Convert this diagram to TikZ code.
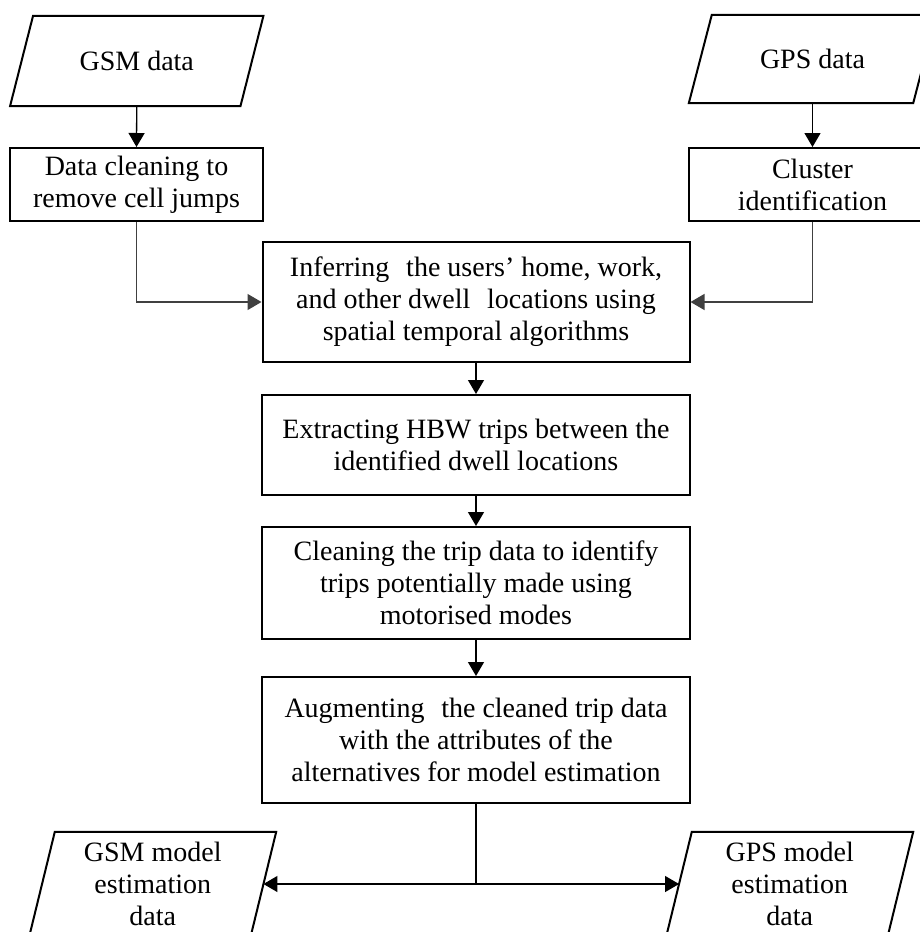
\documentclass[tikz,border=0pt]{standalone}
\usepackage{fontspec}
\setmainfont{Liberation Serif}
\usetikzlibrary{arrows.meta,calc}
\tikzset{
  txt/.style={font=\fontsize{28}{32}\selectfont, align=center, inner sep=0pt},
  procbox/.style={txt, draw, line width=2pt, rectangle},
  iobox/.style={txt, rectangle},
  para/.style={line width=2pt, line join=miter},
  conn/.style={line width=1.3pt, -{Triangle[length=14pt,width=16pt]}},
  elbow/.style={conn, draw=black!75},
}
\begin{document}
\begin{tikzpicture}[x=1pt,y=-1pt]
\useasboundingbox (0,0) rectangle (920,932);
\clip (0,0) rectangle (920,932);
% input parallelograms (invisible core nodes)
\node[iobox, minimum width=230pt, minimum height=90pt] (gsm) at (136.75,61) {GSM data};
\node[iobox, minimum width=224pt, minimum height=88pt] (gps) at (812.5,59) {GPS data};
\draw[para] ([xshift=11.5pt]gsm.north west) -- ([xshift=11.5pt]gsm.north east) -- ([xshift=-11.5pt]gsm.south east) -- ([xshift=-11.5pt]gsm.south west) -- cycle;
\draw[para] ([xshift=11.5pt]gps.north west) -- ([xshift=11.5pt]gps.north east) -- ([xshift=-11.5pt]gps.south east) -- ([xshift=-11.5pt]gps.south west) -- cycle;
% process boxes
\node[procbox, minimum width=253pt, minimum height=73pt] (clean) at (136.5,184.5) {Data cleaning to\\remove cell jumps};
\node[procbox, minimum width=247pt, minimum height=73pt] (cluster) at (812.5,184.5) {Cluster\\identification};
\node[procbox, minimum width=427pt, minimum height=120pt] (infer) at (476,302) {Inferring\hspace{0.35em} the users’ home, work,\\and other dwell\hspace{0.35em} locations using\\spatial temporal algorithms};
\node[procbox, minimum width=428pt, minimum height=100pt] (extract) at (476,445) {Extracting HBW trips between the\\identified dwell locations};
\node[procbox, minimum width=428pt, minimum height=112pt] (tripclean) at (476,583) {Cleaning the trip data to identify\\trips potentially made using\\motorised modes};
\node[procbox, minimum width=428pt, minimum height=126pt] (augment) at (476,740) {Augmenting\hspace{0.35em} the cleaned trip data\\with the attributes of the\\alternatives for model estimation};
% output parallelograms
\node[iobox, minimum width=221pt, minimum height=104pt] (gsmm) at (152.75,884) {GSM model\\estimation\\data};
\node[iobox, minimum width=221pt, minimum height=104pt] (gpsm) at (789.75,884) {GPS model\\estimation\\data};
\draw[para] ([xshift=12.75pt]gsmm.north west) -- ([xshift=12.75pt]gsmm.north east) -- ([xshift=-12.75pt]gsmm.south east) -- ([xshift=-12.75pt]gsmm.south west) -- cycle;
\draw[para] ([xshift=12.75pt]gpsm.north west) -- ([xshift=12.75pt]gpsm.north east) -- ([xshift=-12.75pt]gpsm.south east) -- ([xshift=-12.75pt]gpsm.south west) -- cycle;
% connectors
\draw[conn] (gsm.south) -- (clean.north);
\draw[conn] (gps.south) -- (cluster.north);
\draw[elbow] (clean.south) |- (infer.west);
\draw[elbow] (cluster.south) |- (infer.east);
\draw[conn] (infer.south) -- (extract.north);
\draw[conn] (extract.south) -- (tripclean.north);
\draw[conn] (tripclean.south) -- (augment.north);
\draw[conn] (augment.south) |- (gsmm.east);
\draw[conn] (augment.south) |- (gpsm.west);
\end{tikzpicture}
\end{document}
